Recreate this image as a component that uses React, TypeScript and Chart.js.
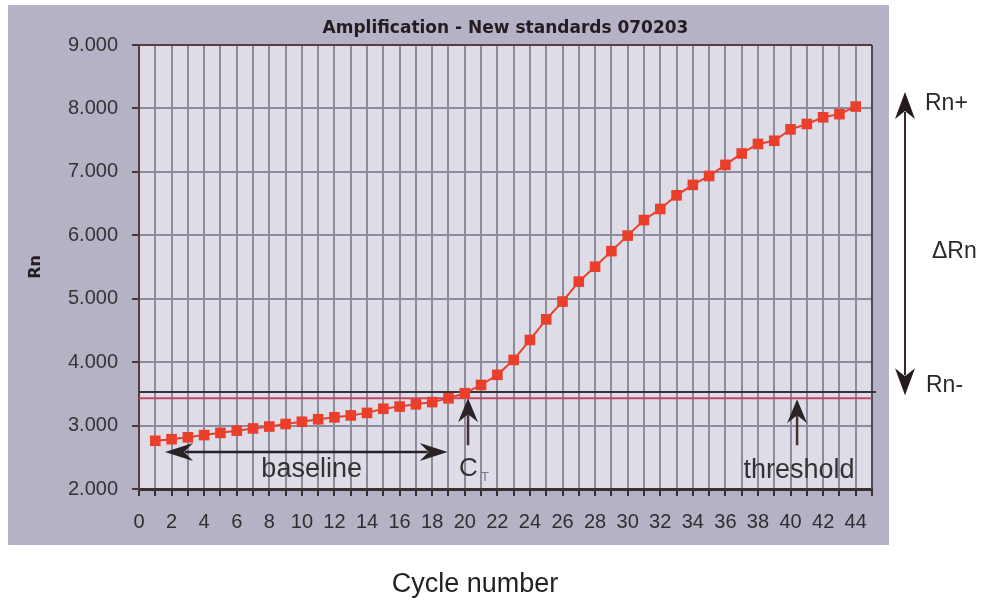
import React, { useEffect, useRef } from 'react';
import { Chart, registerables } from 'chart.js';

Chart.register(...registerables);

const TITLE = 'Amplification - New standards 070203';
const X_TITLE = 'Cycle number';
const Y_TITLE = 'Rn';

const CYCLES = [
  1, 2, 3, 4, 5, 6, 7, 8, 9, 10, 11, 12, 13, 14, 15, 16, 17, 18, 19, 20, 21, 22,
  23, 24, 25, 26, 27, 28, 29, 30, 31, 32, 33, 34, 35, 36, 37, 38, 39, 40, 41, 42, 43, 44,
];
const RN_VALUES = [
  2760, 2785, 2815, 2850, 2885, 2920, 2955, 2985, 3025, 3060, 3100, 3130, 3160, 3200,
  3265, 3300, 3335, 3370, 3430, 3510, 3640, 3800, 4035, 4350, 4675, 4955, 5270, 5505,
  5750, 5995, 6240, 6415, 6630, 6795, 6935, 7110, 7290, 7440, 7490, 7670, 7755, 7860,
  7910, 8030,
];

const THRESHOLD_LEVEL = 3430;
const RN_MINUS_LEVEL = 3530;

const X_MIN = 0;
const X_MAX = 45;
const X_LABEL_STEP = 2;
const Y_MIN = 2000;
const Y_MAX = 9000;
const Y_STEP = 1000;

// annotation anchors (data units)
const BASELINE_START = 1.6;
const BASELINE_END = 18.95;
const BASELINE_Y = 2585;
const CT_CYCLE = 20.2;
const THRESHOLD_ARROW_CYCLE = 40.4;
const ARROW_TAIL_Y = 2690;
const RN_PLUS_Y = 8260;
const RN_MINUS_Y = 3480;

const PANEL = '#b6b2c6';
const PLOT_BG = '#dddce7';
const GRID = '#8e8a9d';
const DARK = '#2a2224';
const SERIES = '#ea3f2b';
const THRESH_COLOR = '#c4485f';
const SANS = '"Liberation Sans", Arial, sans-serif';

function arrowHead(ctx: CanvasRenderingContext2D, tx: number, ty: number, dx: number, dy: number, len: number, half: number, notch: number) {
  const nx = -dy;
  const ny = dx;
  ctx.beginPath();
  ctx.moveTo(tx, ty);
  ctx.lineTo(tx - dx * len + nx * half, ty - dy * len + ny * half);
  ctx.lineTo(tx - dx * (len - notch), ty - dy * (len - notch));
  ctx.lineTo(tx - dx * len - nx * half, ty - dy * len - ny * half);
  ctx.closePath();
  ctx.fill();
}

const decor = {
  id: 'decor',
  beforeDraw(chart: any) {
    const { ctx, chartArea: a, width, height } = chart;
    ctx.save();
    ctx.fillStyle = '#ffffff';
    ctx.fillRect(0, 0, width, height);
    ctx.fillStyle = PANEL;
    ctx.fillRect(8, 5, 881, 540);
    ctx.fillStyle = PLOT_BG;
    ctx.fillRect(a.left, a.top, a.right - a.left, a.bottom - a.top);
    ctx.restore();
  },
  beforeDatasetsDraw(chart: any) {
    const { ctx, chartArea: a } = chart;
    ctx.save();
    ctx.strokeStyle = '#5a3c3c';
    ctx.lineWidth = 2;
    ctx.beginPath();
    ctx.moveTo(a.left, a.top);
    ctx.lineTo(a.right, a.top);
    ctx.stroke();
    ctx.strokeStyle = '#4d4a55';
    ctx.beginPath();
    ctx.moveTo(a.right, a.top);
    ctx.lineTo(a.right, a.bottom);
    ctx.stroke();
    ctx.restore();
  },
  afterDraw(chart: any) {
    const { ctx, chartArea: a } = chart;
    const xs = chart.scales.x;
    const ys = chart.scales.y;
    ctx.save();

    // title
    ctx.fillStyle = '#241c20';
    ctx.font = 'bold 17px "DejaVu Sans", sans-serif';
    ctx.textAlign = 'center';
    ctx.textBaseline = 'alphabetic';
    ctx.fillText(TITLE, (a.left + a.right) / 2, 33);

    // x axis title (outside panel)
    ctx.fillStyle = '#222222';
    ctx.font = `27px ${SANS}`;
    ctx.fillText(X_TITLE, 475, 592);

    ctx.fillStyle = DARK;
    ctx.strokeStyle = DARK;

    // baseline double arrow
    const by = ys.getPixelForValue(BASELINE_Y);
    const bx1 = xs.getPixelForValue(BASELINE_START);
    const bx2 = xs.getPixelForValue(BASELINE_END);
    ctx.lineWidth = 2.5;
    ctx.beginPath();
    ctx.moveTo(bx1 + 20, by);
    ctx.lineTo(bx2 - 20, by);
    ctx.stroke();
    arrowHead(ctx, bx1, by, -1, 0, 28, 9, 9);
    arrowHead(ctx, bx2, by, 1, 0, 28, 9, 9);

    // C_T arrow
    const ctx0 = xs.getPixelForValue(CT_CYCLE);
    const tipY = ys.getPixelForValue(THRESHOLD_LEVEL);
    const tailY = ys.getPixelForValue(ARROW_TAIL_Y);
    ctx.lineWidth = 2.5;
    ctx.strokeStyle = '#4a3234';
    ctx.beginPath();
    ctx.moveTo(ctx0, tailY);
    ctx.lineTo(ctx0, tipY + 16);
    ctx.stroke();
    arrowHead(ctx, ctx0, tipY, 0, -1, 24, 10, 8);

    // threshold arrow
    const tx = xs.getPixelForValue(THRESHOLD_ARROW_CYCLE);
    ctx.beginPath();
    ctx.moveTo(tx, tailY);
    ctx.lineTo(tx, tipY + 16);
    ctx.stroke();
    arrowHead(ctx, tx, tipY + 1, 0, -1, 24, 10, 8);

    // right delta Rn double arrow
    const rx = a.right + 33;
    const ry1 = ys.getPixelForValue(RN_PLUS_Y);
    const ry2 = ys.getPixelForValue(RN_MINUS_Y);
    ctx.strokeStyle = '#3a2628';
    ctx.lineWidth = 2;
    ctx.beginPath();
    ctx.moveTo(rx, ry1 + 20);
    ctx.lineTo(rx, ry2 - 20);
    ctx.stroke();
    ctx.fillStyle = '#241a1c';
    arrowHead(ctx, rx, ry1, 0, -1, 27, 10, 8);
    arrowHead(ctx, rx, ry2, 0, 1, 27, 10, 8);

    // texts
    ctx.fillStyle = '#333333';
    ctx.font = `27px ${SANS}`;
    ctx.textAlign = 'center';
    ctx.fillText('baseline', xs.getPixelForValue(10.6), a.bottom - 12);
    ctx.fillText('threshold', tx + 2, a.bottom - 11);

    ctx.textAlign = 'left';
    ctx.font = `26px ${SANS}`;
    ctx.fillText('C', ctx0 - 9, a.bottom - 13);
    ctx.fillStyle = '#77778a';
    ctx.font = `13px ${SANS}`;
    ctx.fillText('T', ctx0 + 13, a.bottom - 8);

    ctx.fillStyle = '#2a2a2a';
    ctx.font = `23px ${SANS}`;
    ctx.fillText('Rn+', 925, 110);
    ctx.fillText('\u0394Rn', 932, 258);
    ctx.fillText('Rn-', 926, 392);

    ctx.restore();
  },
};

export default function App() {
  const ref = useRef<HTMLCanvasElement>(null);

  useEffect(() => {
    const seriesData = CYCLES.map((c, i) => ({ x: c, y: RN_VALUES[i] }));
    const thresholdData = [
      { x: X_MIN, y: THRESHOLD_LEVEL },
      { x: X_MAX, y: THRESHOLD_LEVEL },
    ];
    const rnMinusData = [
      { x: X_MIN, y: RN_MINUS_LEVEL },
      { x: X_MAX + 0.25, y: RN_MINUS_LEVEL },
    ];

    const chart = new Chart(ref.current as HTMLCanvasElement, {
      type: 'line',
      data: {
        datasets: [
          {
            label: 'Rn',
            data: seriesData,
            borderColor: SERIES,
            backgroundColor: SERIES,
            borderWidth: 2,
            pointStyle: 'rect',
            pointRadius: 7.5,
            pointBorderWidth: 0,
            pointBackgroundColor: SERIES,
            tension: 0,
            order: 0,
          },
          {
            label: 'threshold',
            data: thresholdData,
            borderColor: THRESH_COLOR,
            borderWidth: 2,
            pointRadius: 0,
            order: 2,
          },
          {
            label: 'Rn-',
            data: rnMinusData,
            borderColor: '#3b3436',
            borderWidth: 2,
            pointRadius: 0,
            clip: 8,
            order: 1,
          },
        ],
      },
      options: {
        responsive: false,
        animation: false,
        devicePixelRatio: 1,
        layout: { padding: { left: 8, top: 45, right: 114, bottom: 0 } },
        plugins: {
          legend: { display: false },
          title: { display: false },
          tooltip: { enabled: false },
        },
        scales: {
          x: {
            type: 'linear',
            min: X_MIN,
            max: X_MAX,
            afterFit: (s: any) => {
              s.height = 116;
            },
            ticks: {
              stepSize: 1,
              autoSkip: false,
              maxRotation: 0,
              minRotation: 0,
              padding: 14,
              color: '#2e2e2e',
              font: { family: SANS, size: 20 },
              callback: (v: any) => (Number(v) % X_LABEL_STEP === 0 ? String(v) : ''),
            },
            grid: {
              color: GRID,
              lineWidth: 2,
              tickLength: 7,
              tickColor: '#3a3030',
              tickWidth: 2,
            },
            border: { color: '#3a3030', width: 3 },
          },
          y: {
            type: 'linear',
            min: Y_MIN,
            max: Y_MAX,
            afterFit: (s: any) => {
              s.width = 131;
            },
            ticks: {
              stepSize: Y_STEP,
              padding: 14,
              color: '#333333',
              font: { family: SANS, size: 20 },
              callback: (v: any) => (Number(v) / 1000).toFixed(3),
            },
            grid: {
              color: GRID,
              lineWidth: 2,
              tickLength: 7,
              tickColor: '#4a3434',
              tickWidth: 2,
            },
            border: { color: '#5a3c3c', width: 2 },
            title: {
              display: true,
              text: Y_TITLE,
              color: '#241c20',
              font: { family: '"DejaVu Sans", sans-serif', size: 16, weight: 'bold' },
              padding: { top: 18, bottom: 0 },
            },
          },
        },
      },
      plugins: [decor],
    } as any);

    return () => chart.destroy();
  }, []);

  return (
    <div style={{ position: 'fixed', left: 0, top: 0, width: 986, height: 605, background: '#ffffff' }}>
      <canvas ref={ref} width={986} height={605} style={{ display: 'block', width: 986, height: 605 }} />
    </div>
  );
}
